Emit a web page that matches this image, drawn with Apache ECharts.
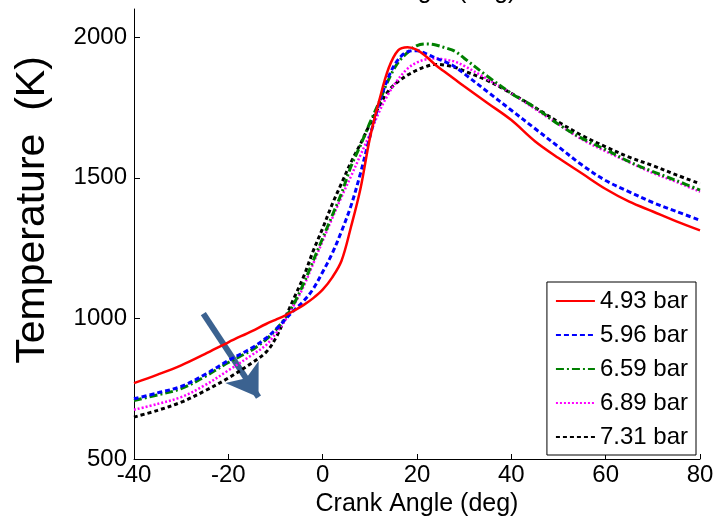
<!DOCTYPE html>
<html><head><meta charset="utf-8">
<script src="https://cdn.jsdelivr.net/npm/echarts@6/dist/echarts.min.js"></script>
<style>html,body{margin:0;padding:0;background:#fff}#c{width:716px;height:518px}</style>
</head><body><div id="c"></div>
<script>
const crankAngle = [-40,-35,-30,-25,-20,-15,-12,-10,-8,-6,-4,-2,0,2,4,6,8,10,12,14,16,18,20,22,24,26,28,30,35,40,45,50,55,60,65,70,75,80];
const temp493 = [770,800,833,873,915,955,980,995,1010,1028,1048,1072,1102,1145,1205,1325,1460,1640,1775,1890,1953,1964,1955,1930,1900,1875,1850,1825,1765,1705,1630,1570,1515,1460,1415,1380,1345,1313];
const temp596 = [714,735,758,800,850,895,930,960,995,1030,1062,1105,1165,1230,1310,1400,1515,1645,1765,1860,1920,1948,1952,1940,1925,1912,1895,1870,1805,1740,1675,1610,1545,1490,1450,1412,1380,1349];
const temp659 = [708,728,750,793,843,888,925,958,1000,1055,1125,1205,1285,1365,1445,1540,1615,1695,1770,1850,1910,1945,1970,1976,1972,1962,1950,1925,1860,1800,1750,1690,1640,1600,1557,1522,1490,1456];
const temp689 = [675,696,720,762,815,870,905,945,992,1050,1115,1195,1275,1355,1432,1505,1580,1655,1735,1800,1850,1888,1910,1921,1924,1920,1913,1898,1850,1800,1745,1690,1636,1594,1555,1517,1485,1450];
const temp731 = [649,673,702,742,788,842,880,928,1000,1075,1150,1240,1320,1405,1480,1555,1620,1690,1755,1810,1842,1865,1883,1896,1903,1900,1893,1880,1845,1800,1750,1698,1650,1610,1573,1543,1510,1479];
const seriesNames = ['4.93 bar','5.96 bar','6.59 bar','6.89 bar','7.31 bar'];
const xTicks = [-40,-20,0,20,40,60,80];
const yTicks = [500,1000,1500,2000];
const arrowStart = [-25.3, 1017];
const arrowEnd = [-13.6, 720];

const allTemps = [temp493, temp596, temp659, temp689, temp731];
const colors = ['#ff0000','#0000ff','#008000','#ff00ff','#000000'];
const lineTypes = ['solid',[5,3],[8,3,2,3],[2,2],[4,3]];
const widths = [2.5,3,3,2.5,3];
const FONT = 'Liberation Sans, Arial, Helvetica, sans-serif';

const chart = echarts.init(document.getElementById('c'), null, {renderer:'canvas'});
const series = allTemps.map((arr, k) => ({
  name: seriesNames[k],
  type: 'line',
  data: crankAngle.map((x, i) => [x, arr[i]]),
  symbol: 'none',
  smooth: 0.35,
  lineStyle: {color: colors[k], width: widths[k], type: lineTypes[k]},
  itemStyle: {color: colors[k]},
  z: 10 - k
}));
series.push({
  name: 'arrow',
  type: 'line',
  data: [],
  symbol: 'none',
  z: 20,
  markLine: {
    silent: true,
    symbol: ['none','arrow'],
    symbolSize: [30, 30],
    label: {show: false},
    lineStyle: {color: '#3b6290', width: 6, type: 'solid', opacity: 1},
    emphasis: {disabled: true},
    data: [[{coord: arrowStart}, {coord: arrowEnd}]]
  }
});

chart.setOption({
  animation: false,
  backgroundColor: '#fff',
  textStyle: {fontFamily: FONT},
  grid: {left: 134, right: 16, top: 9, bottom: 59, containLabel: false, outerBoundsMode: 'none'},
  xAxis: {
    type: 'value', min: -40, max: 80, interval: 20,
    name: 'Crank Angle (deg)', nameLocation: 'middle', nameGap: 33,
    nameTextStyle: {fontSize: 25, color: '#000', fontFamily: FONT},
    axisLine: {show: true, onZero: false, lineStyle: {color: '#000', width: 1}},
    axisTick: {show: true, inside: true, length: 5, lineStyle: {color: '#000'}, customValues: xTicks},
    axisLabel: {fontSize: 24, color: '#000', margin: 4, fontFamily: FONT, customValues: xTicks, formatter: v => String(v)},
    splitLine: {show: false}
  },
  yAxis: {
    type: 'value', min: 500, max: 2100, interval: 500,
    axisLine: {show: true, onZero: false, lineStyle: {color: '#000', width: 1}},
    axisTick: {show: true, inside: true, length: 6, lineStyle: {color: '#000'}, customValues: yTicks},
    axisLabel: {fontSize: 24, color: '#000', margin: 7, fontFamily: FONT, customValues: yTicks, formatter: v => String(v)},
    splitLine: {show: false}
  },
  legend: {
    data: seriesNames,
    orient: 'vertical',
    right: 20, top: 282,
    itemWidth: 39, itemHeight: 14, itemGap: 10,
    padding: [7, 8, 6, 8],
    borderColor: '#000', borderWidth: 1, backgroundColor: '#fff',
    itemStyle: {opacity: 0},
    textStyle: {fontSize: 24, color: '#000', fontFamily: FONT},
    selectedMode: false
  },
  graphic: [
    {type: 'text', x: 33, y: 210, rotation: Math.PI/2,
     style: {text: 'Temperature  (K)', font: '41px ' + FONT, fill: '#000', textAlign: 'center', textVerticalAlign: 'middle'}},
    {type: 'text', x: 415, y: -9,
     style: {text: 'Crank Angle (deg)', font: '25px ' + FONT, fill: '#000', textAlign: 'center', textVerticalAlign: 'middle'}}
  ],
  series: series
});
</script></body></html>
